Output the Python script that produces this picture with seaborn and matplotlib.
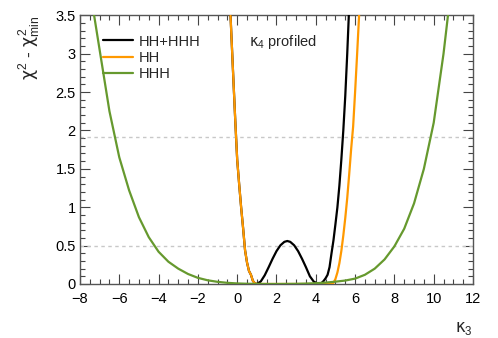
#!/usr/bin/env python3
"""
Delta chi2 scan versus kappa_3 (kappa_4 profiled) for HH, HHH and the
HH+HHH combination, drawn in a ROOT-like style.
"""

import numpy as np
import pandas as pd
import matplotlib
matplotlib.use("Agg")
import matplotlib.pyplot as plt
from matplotlib.ticker import MultipleLocator, FormatStrFormatter
import seaborn as sns

# HHH only
k3_hhh = [-8.0, -7.5, -7.0, -6.5, -6.0, -5.5, -5.0, -4.5, -4.0, -3.5, -3.0,
          -2.5, -2.0, -1.5, -1.0, -0.5, 0.0, 0.5, 1.0, 1.5, 2.0, 2.5, 3.0,
          3.5, 4.0, 4.5, 5.0, 5.5, 6.0, 6.5, 7.0, 7.5, 8.0, 8.5, 9.0, 9.5,
          10.0, 10.5, 11.0, 11.5, 12.0]
dchi2_hhh = [4.7, 3.85, 3.05, 2.25, 1.65, 1.22, 0.87, 0.61, 0.42, 0.29, 0.2,
             0.13, 0.08, 0.048, 0.028, 0.015, 0.007, 0.003, 0.001, 0.0, 0.0,
             0.001, 0.002, 0.005, 0.01, 0.018, 0.03, 0.045, 0.07, 0.12, 0.2,
             0.32, 0.49, 0.72, 1.05, 1.5, 2.1, 3.0, 4.1, 5.3, 6.6]

# HH only
k3_hh = [-0.6, -0.5, -0.4, -0.3, -0.2, -0.1, 0.0, 0.1, 0.2, 0.3, 0.4, 0.5,
         0.6, 0.7, 0.8, 0.9, 1.0, 1.5, 2.0, 2.5, 3.0, 3.5, 4.0, 4.5, 4.8,
         4.9, 5.0, 5.1, 5.2, 5.3, 5.4, 5.5, 5.6, 5.7, 5.8, 5.9, 6.0, 6.1,
         6.2, 6.3, 6.4]
dchi2_hh = [5.0, 4.45, 3.85, 3.27, 2.7, 2.14, 1.62, 1.3, 1.0, 0.73, 0.44, 0.28,
            0.17, 0.12, 0.04, 0.01, 0.0, 0.0, 0.0, 0.0, 0.0, 0.0, 0.0, 0.0, 0.0,
            0.015, 0.065, 0.15, 0.27, 0.43, 0.63, 0.86, 1.12, 1.43, 1.76, 2.05,
            2.5, 2.98, 3.48, 4.0, 4.6]

# HH+HHH combination
k3_comb = [-0.6, -0.5, -0.4, -0.3, -0.2, -0.1, 0.0, 0.1, 0.2, 0.3, 0.4, 0.5,
           0.6, 0.7, 0.8, 0.9, 1.0, 1.2, 1.4, 1.6, 1.8, 2.0, 2.2, 2.4, 2.55,
           2.7, 2.9, 3.1, 3.3, 3.5, 3.7, 3.9, 4.15, 4.3, 4.4, 4.5, 4.6, 4.7,
           4.8, 4.9, 5.0, 5.1, 5.2, 5.3, 5.4, 5.5, 5.6, 5.7, 5.8]
dchi2_comb = [5.0, 4.45, 3.85, 3.27, 2.7, 2.14, 1.62, 1.3, 1.0, 0.73, 0.44, 0.28,
              0.17, 0.12, 0.04, 0.008, 0.0, 0.033, 0.113, 0.218, 0.328, 0.428,
              0.504, 0.549, 0.56, 0.549, 0.504, 0.428, 0.328, 0.218, 0.1, 0.03,
              0.0, 0.015, 0.04, 0.075, 0.12, 0.22, 0.4, 0.57, 0.78, 1.0, 1.28,
              1.62, 2.0, 2.45, 3.0, 3.62, 4.3]

ref_levels = [0.5, 1.92]

C_COMB = "black"
C_HH = "#ff9900"
C_HHH = "#66992e"

sns.set_theme(style="ticks")
plt.rcParams["font.family"] = ["Liberation Sans", "DejaVu Sans"]
# upright greek letters, like ROOT's symbol font
plt.rcParams["mathtext.fontset"] = "custom"
plt.rcParams["mathtext.rm"] = "Liberation Sans"
plt.rcParams["mathtext.it"] = "DejaVu Sans"

fig = plt.figure(figsize=(4.98, 3.38), dpi=100)
ax = fig.add_axes([0.1606, 0.1598, 0.7892, 0.7949])

for lvl in ref_levels:
    ax.axhline(lvl, color="#c8c8c8", lw=1.0, ls=(0, (2.5, 2.5)), zorder=1)

curves = [
    ("HH+HHH", k3_comb, dchi2_comb, C_COMB),
    ("HH", k3_hh, dchi2_hh, C_HH),
    ("HHH", k3_hhh, dchi2_hhh, C_HHH),
]
for name, xs, ys, col in curves:
    df = pd.DataFrame({"k3": xs, "dchi2": ys})
    sns.lineplot(data=df, x="k3", y="dchi2", ax=ax, color=col, lw=1.6,
                 label=name, zorder=3)

ax.set_xlim(-8, 12)
ax.set_ylim(0, 3.5)
ax.xaxis.set_major_locator(MultipleLocator(2))
ax.xaxis.set_minor_locator(MultipleLocator(0.5))
ax.yaxis.set_major_locator(MultipleLocator(0.5))
ax.yaxis.set_minor_locator(MultipleLocator(0.1))
ax.yaxis.set_major_formatter(FormatStrFormatter("%g"))

ax.tick_params(which="both", direction="in", top=True, right=True,
               colors="#444444", labelcolor="black", labelsize=10.5, width=0.8)
ax.tick_params(which="major", length=7, pad=3)
ax.tick_params(axis="x", which="major", pad=5.5)
ax.tick_params(which="minor", length=3.5)
for sp in ax.spines.values():
    sp.set_color("#555555")
    sp.set_linewidth(1.0)

ax.set_xlabel(r"$\kappa_{3}$", loc="right", fontsize=12, labelpad=10)
ax.set_ylabel(r"$\chi^{2}$ - $\chi^{2}_{\rm min}$", loc="top", fontsize=12.5,
              labelpad=10)

ax.text(0.43, 0.90, r"$\kappa_{4}$ profiled", transform=ax.transAxes,
        fontsize=10.5, va="center", ha="left")

leg = ax.legend(loc="upper left", bbox_to_anchor=(0.045, 0.95), frameon=False,
                fontsize=10.5, handlelength=2.0, handletextpad=0.4,
                labelspacing=0.15, borderaxespad=0)

fig.savefig("out.png", dpi=100)
